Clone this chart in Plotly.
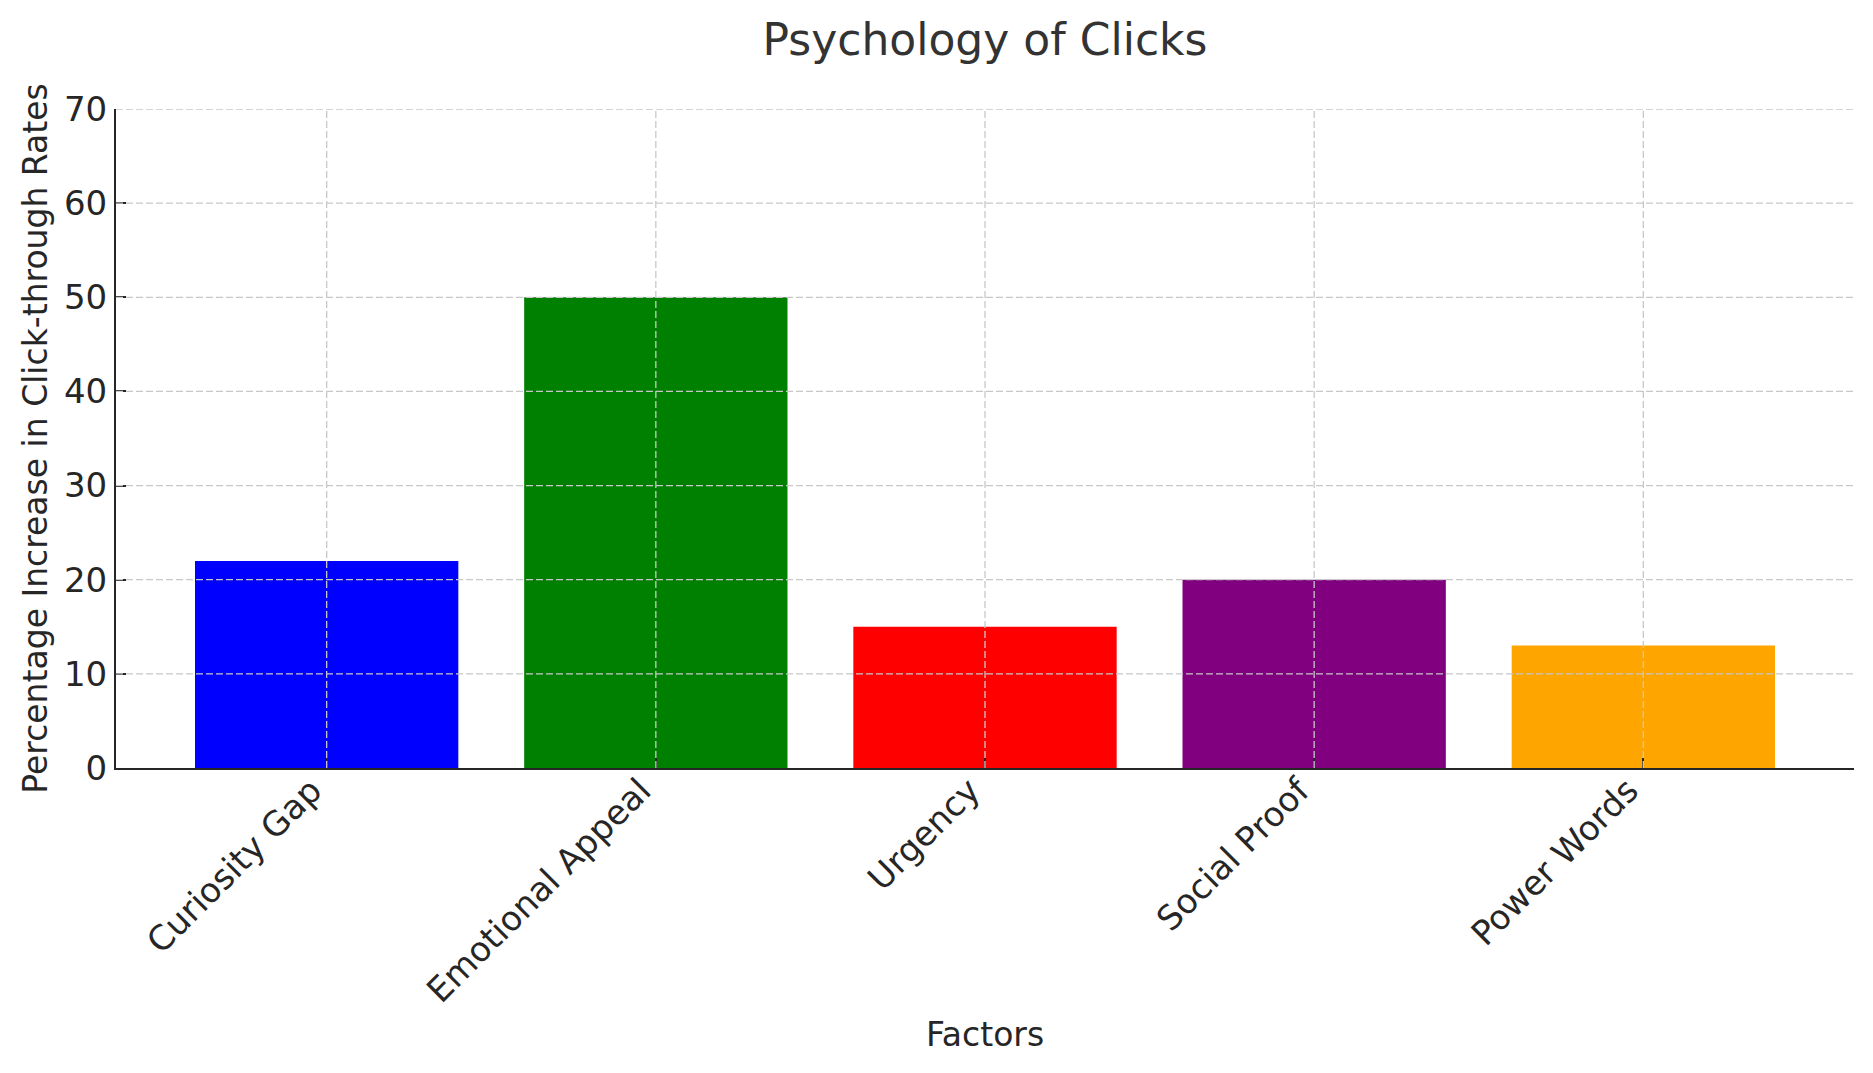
import plotly.graph_objects as go

# chart data
factors = ["Curiosity Gap", "Emotional Appeal", "Urgency", "Social Proof", "Power Words"]
ctr_increase = [22, 50, 15, 20, 13]
bar_colors = ["blue", "green", "red", "purple", "orange"]
y_ticks = [0, 10, 20, 30, 40, 50, 60, 70]

FONT = "DejaVu Sans"
TEXT = "#262626"
GRID = "#c8c8c8"
W, H = 1873, 1073
PAGE_PAD = 8  # default <body> margin pushes the plot 8px right and down

fig = go.Figure()
fig.add_trace(go.Bar(x=list(range(len(factors))), y=ctr_increase, width=0.8,
                     marker=dict(color=bar_colors, line=dict(width=0)),
                     showlegend=False))

# matplotlib draws its dashed grid over the bars, so use shapes on the top layer
for v in y_ticks[1:]:
    fig.add_hline(y=v, line=dict(color=GRID, width=1.3, dash="7px,3px"), layer="above")
for i in range(len(factors)):
    fig.add_vline(x=i, line=dict(color=GRID, width=1.3, dash="7px,3px"), layer="above")

fig.update_layout(
    width=W, height=H,
    margin=dict(l=116 - PAGE_PAD, r=19 + PAGE_PAD, t=109 - PAGE_PAD, b=305 + PAGE_PAD),
    paper_bgcolor="white", plot_bgcolor="white",
    font=dict(family=FONT, size=33, color=TEXT),
    title=dict(text="Psychology of Clicks", x=0.5, xanchor="center",
               xref="paper", yref="container", y=1 - (40 - PAGE_PAD) / H, yanchor="middle",
               font=dict(family=FONT, size=44, color="#333333")),
    bargap=0.2,
)
fig.update_xaxes(
    range=[-0.64, len(factors) - 1 + 0.64],
    tickmode="array", tickvals=list(range(len(factors))), ticktext=factors,
    tickangle=-45, ticks="inside", ticklen=10, tickwidth=1.6, tickcolor=TEXT,
    tickfont=dict(size=34), ticklabelshift=-15, ticklabelstandoff=-13,
    showline=True, linecolor=TEXT, linewidth=2, showgrid=False, zeroline=False,
    title=dict(text="Factors", standoff=14, font=dict(size=33)),
    automargin=False, layer="above traces",
)
fig.update_yaxes(
    range=[0, 70], tickvals=y_ticks,
    ticks="inside", ticklen=10, tickwidth=1.6, tickcolor=TEXT, tickfont=dict(size=34),
    showline=True, linecolor=TEXT, linewidth=2, showgrid=False, zeroline=False,
    title=dict(text="Percentage Increase in Click-through Rates", standoff=6,
               font=dict(size=33)),
    automargin=False, layer="above traces",
)

fig.write_html("out.html")
